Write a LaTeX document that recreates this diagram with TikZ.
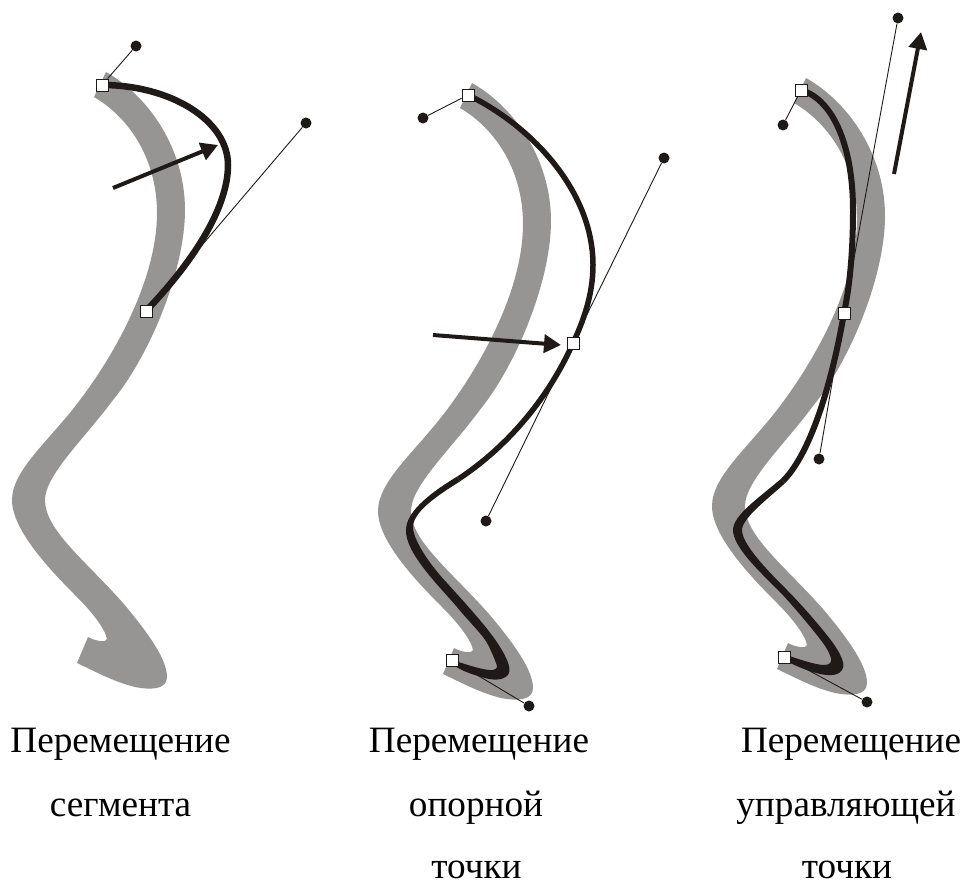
\documentclass[tikz,border=0pt]{standalone}
\usepackage{fontspec}
\setmainfont{Liberation Serif}
\usetikzlibrary{arrows.meta}
\pgfdeclarelayer{graylayer}
\pgfdeclarelayer{linelayer}
\pgfdeclarelayer{curvelayer}
\pgfsetlayers{graylayer,linelayer,curvelayer,main}
\definecolor{ink}{HTML}{1F1A17}
\definecolor{ghost}{HTML}{969594}
\tikzset{
  anchorbox/.style={draw=ink,fill=white,line width=0.9pt,rectangle,minimum size=12pt,inner sep=0pt},
  handledot/.style={fill=ink,circle,minimum size=11pt,inner sep=0pt},
  handleline/.style={draw=ink,line width=0.9pt},
  curveline/.style={draw=ink,line width=#1},
  curveline/.default=5.5pt,
  movearrow/.style={draw=ink,fill=ink,line width=4pt,-{Triangle[length=17pt,width=18pt]},shorten >=0pt},
  caption/.style={anchor=base,inner sep=0pt,font=\fontsize{37.2}{44}\selectfont},
  ghostshape/.pic={
    \fill[ghost] (106,72) .. controls (150,97) and (185,150) .. (185,210)
      .. controls (185,270) and (150,355) .. (113,400)
      .. controls (85,438) and (45,475) .. (45,500)
      .. controls (45,530) and (85,560) .. (123,603)
      .. controls (150,635) and (167,660) .. (167,677)
      .. controls (167,690) and (150,690) .. (135,687)
      .. controls (115,682) and (100,674) .. (77,663)
      -- (88,637)
      .. controls (95,641) and (107,643) .. (107,639)
      .. controls (105,628) and (90,610) .. (77,597)
      .. controls (50,570) and (12,530) .. (12,500)
      .. controls (12,470) and (50,440) .. (80,400)
      .. controls (125,340) and (157,270) .. (157,213)
      .. controls (157,160) and (130,118) .. (94,97)
      -- cycle;
  }
}
\begin{document}
\begin{tikzpicture}[x=1pt,y=-1pt]
\useasboundingbox (0,0) rectangle (963,886);

\begin{pgfonlayer}{graylayer}
  \pic at (0,0) {ghostshape};
  \pic at (366,11) {ghostshape};
  \pic at (700,6) {ghostshape};
\end{pgfonlayer}

% panel 1
\node[anchorbox] (a1) at (102,85) {};
\node[anchorbox] (b1) at (146,311) {};
\node[handledot] (h1a) at (136,46) {};
\node[handledot] (h1b) at (306,123) {};
% panel 2
\node[anchorbox] (a2) at (468,95) {};
\node[anchorbox] (b2) at (573,343) {};
\node[anchorbox] (c2) at (452,660) {};
\node[handledot] (h2a) at (423,118) {};
\node[handledot] (h2b) at (664,158) {};
\node[handledot] (h2c) at (486,521) {};
\node[handledot] (h2d) at (529,706) {};
% panel 3
\node[anchorbox] (a3) at (801,90) {};
\node[anchorbox] (b3) at (844,313) {};
\node[anchorbox] (c3) at (784,657) {};
\node[handledot] (h3a) at (783,125) {};
\node[handledot] (h3b) at (898,18) {};
\node[handledot] (h3c) at (819,459) {};
\node[handledot] (h3d) at (867,702) {};

\begin{pgfonlayer}{linelayer}
  \draw[handleline] (h1a) -- (a1);
  \draw[handleline] (h1b) -- (b1);
  \draw[handleline] (h2a) -- (a2);
  \draw[handleline] (h2b) -- (b2);
  \draw[handleline] (h2c) -- (b2);
  \draw[handleline] (h2d) -- (c2);
  \draw[handleline] (h3a) -- (a3);
  \draw[handleline] (h3b) -- (b3);
  \draw[handleline] (h3c) -- (b3);
  \draw[handleline] (h3d) -- (c3);
\end{pgfonlayer}

\begin{pgfonlayer}{curvelayer}
  % panel 1
  \draw[curveline=6.5pt] (a1.center) .. controls (170,85) and (228,120) .. (228,165)
     .. controls (228,210) and (190,265) .. (b1.center);
  % panel 2
  \draw[curveline=5.5pt] (a2.center) .. controls (530,125) and (593,190) .. (593,265)
     .. controls (593,295) and (583,322) .. (b2.center)
     .. controls (550,395) and (510,445) .. (458.5,479);
  \fill[ink] (460.1,481.3) .. controls (445,491) and (413,510) .. (413,527)
     .. controls (413,540) and (430,565) .. (447,583)
     .. controls (465,603) and (490,630) .. (500,647)
     .. controls (507,658) and (511,668) .. (509,673)
     .. controls (506,680) and (495,681) .. (485,678)
     .. controls (470,674) and (460,670) .. (452,664)
     -- (452,660)
     .. controls (465,664) and (485,671) .. (493,670)
     .. controls (497,669) and (498,667) .. (496,663)
     .. controls (493,655) and (488,643) .. (483,637)
     .. controls (475,627) and (465,617) .. (457,607)
     .. controls (440,587) and (405,553) .. (406,530)
     .. controls (406,510) and (435,490) .. (456.9,476.7) -- cycle;
  % panel 3
  \draw[curveline=6pt] (a3.center) .. controls (835,100) and (853,150) .. (853,210)
     .. controls (853,250) and (850,285) .. (b3.center)
     .. controls (836,360) and (816,448) .. (783,481);
  \fill[ink] (785.1,483.1) .. controls (770,497) and (742,518) .. (742,530)
     .. controls (742,545) and (770,573) .. (787,590)
     .. controls (800,603) and (822,628) .. (833,643)
     .. controls (840,653) and (845,663) .. (843,668)
     .. controls (840,676) and (830,676) .. (820,674)
     .. controls (808,671) and (798,667) .. (784,660)
     -- (784,654)
     .. controls (795,658) and (815,665) .. (824,665)
     .. controls (830,665) and (832,662) .. (831,658)
     .. controls (829,652) and (826,647) .. (823,643)
     .. controls (815,632) and (790,602) .. (778,590)
     .. controls (760,572) and (733,547) .. (733,530)
     .. controls (733,515) and (760,497) .. (780.9,478.9) -- cycle;
\end{pgfonlayer}

\coordinate (m1s) at (113,188); \coordinate (m1e) at (218,145);
\coordinate (m2s) at (433,335); \coordinate (m2e) at (561,345);
\coordinate (m3s) at (894,174); \coordinate (m3e) at (921,32);
\draw[movearrow] (m1s) -- (m1e);
\draw[movearrow] (m2s) -- (m2e);
\draw[movearrow] (m3s) -- (m3e);

\node[caption] (t1) at (120.5,752) {Перемещение};
\node[caption] (t2) at (120.5,816) {сегмента};
\node[caption] (t3) at (479,752) {Перемещение};
\node[caption] (t4) at (476,816) {опорной};
\node[caption] (t5) at (476.5,878) {точки};
\node[caption] (t6) at (851,752) {Перемещение};
\node[caption] (t7) at (846,816) {управляющей};
\node[caption] (t8) at (847,878) {точки};
\end{tikzpicture}
\end{document}
